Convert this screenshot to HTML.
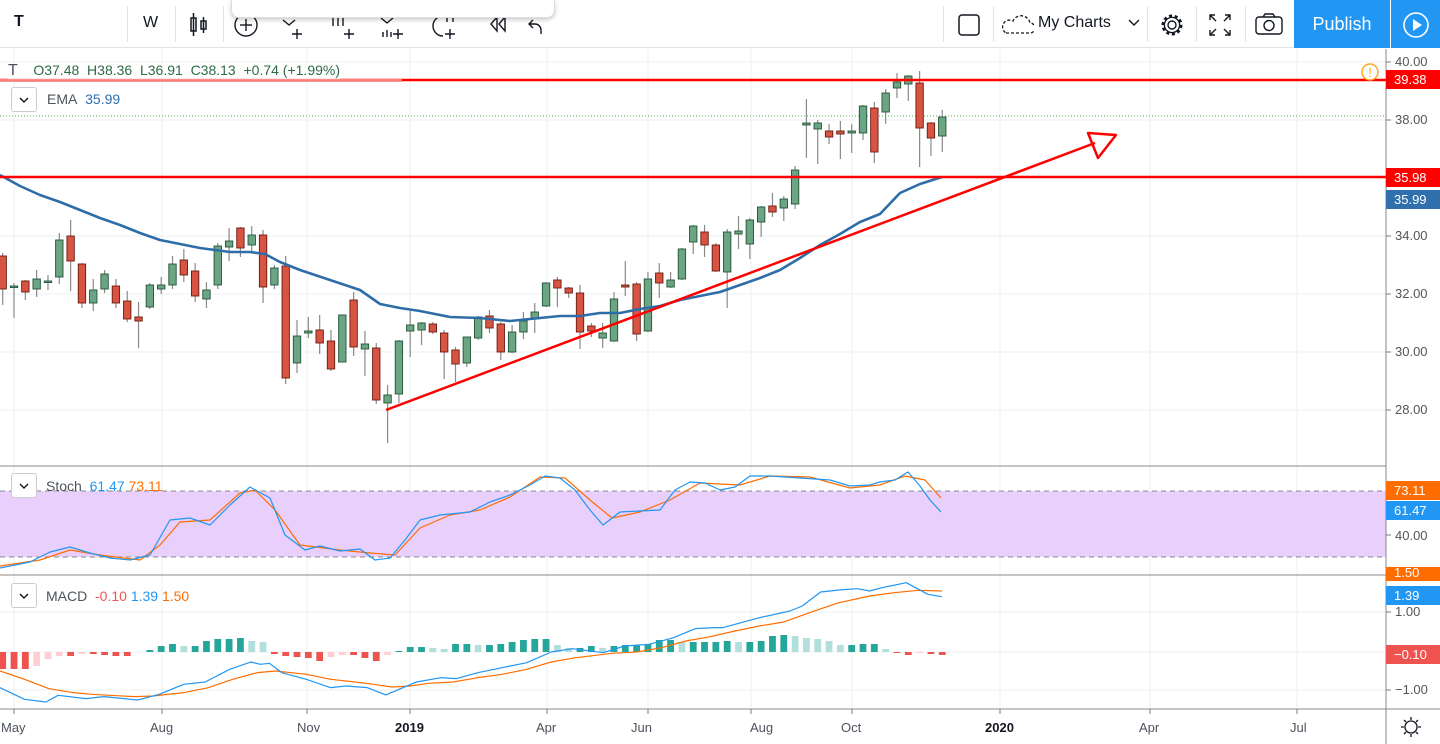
<!DOCTYPE html>
<html><head><meta charset="utf-8">
<style>
*{margin:0;padding:0;box-sizing:border-box}
body{width:1440px;height:744px;overflow:hidden;background:#fff;font-family:"Liberation Sans",Arial,sans-serif;position:relative}
.tb{position:absolute;left:0;top:0;width:1440px;height:48px;border-bottom:1px solid #e0e3eb;background:#fff}
.sep{position:absolute;top:6px;width:1px;height:36px;background:#e0e3eb}
.t{position:absolute;font-size:17px;color:#131722}
.ax{position:absolute;right:0;width:54px;font-size:13px;color:#555;text-align:left;padding-left:9px}
.lab{position:absolute;left:1386px;width:54px;height:19px;color:#fff;font-size:13px;line-height:19px;padding-left:8px}
.tl{position:absolute;top:720px;font-size:13px;color:#4c525e}
</style></head><body>
<div class="tb">
<div class="t" style="left:14px;top:13px;font-weight:bold;font-size:16px">T</div>
<div class="sep" style="left:127px"></div>
<div class="t" style="left:143px;top:14px;font-size:16px">W</div>
<div class="sep" style="left:175px"></div>
<svg style="position:absolute;left:188px;top:12px" width="24" height="26"><rect x="3" y="6" width="5" height="13" fill="none" stroke="#131722" stroke-width="1.5"/><line x1="5.5" y1="1" x2="5.5" y2="24" stroke="#131722" stroke-width="1.5"/><rect x="13" y="9" width="5" height="8" fill="none" stroke="#131722" stroke-width="1.5"/><line x1="15.5" y1="5" x2="15.5" y2="21" stroke="#131722" stroke-width="1.5"/></svg>
<div class="sep" style="left:223px"></div>
<svg style="position:absolute;left:233px;top:12px" width="330" height="30" fill="none" stroke="#131722" stroke-width="1.4"><circle cx="13" cy="13" r="11"/><line x1="13" y1="7" x2="13" y2="19"/><line x1="7" y1="13" x2="19" y2="13"/><path d="M50 8l6 5 6-5M64 17v10M59 22h10"/><path d="M100 6v8M105 6v8M110 6v8M116 17v10M111 22h10"/><path d="M148 6l6 5 6-5M150 20v5M154 18v7M158 20v5M165 17v10M160 22h10"/><path d="M210 4a10 10 0 1 0 0 20M214 5v5M220 4v6M217 17v10M212 22h10"/><path d="M258 12l6-7v14zM266 12l6-7v14z"/><path d="M300 8l-4 4 4 4M296 12h6a6 6 0 0 1 6 6v4"/><path d="M345 8l4 4-4 4M349 12h-6a6 6 0 0 0-6 6v4" stroke="#bbb"/></svg>
<div class="sep" style="left:943px"></div>
<svg style="position:absolute;left:957px;top:13px" width="24" height="24"><rect x="2" y="2" width="20" height="20" rx="3" fill="none" stroke="#131722" stroke-width="1.5"/></svg>
<div class="sep" style="left:993px"></div>
<svg style="position:absolute;left:1002px;top:14px" width="32" height="22"><path d="M4 19h24a5 5 0 0 0 0-10a9 9 0 0 0-17-2a6 6 0 0 0-7 12z" fill="none" stroke="#131722" stroke-width="1.3" stroke-dasharray="3 2"/></svg>
<div class="t" style="left:1038px;top:14px;font-size:16px">My Charts</div>
<svg style="position:absolute;left:1128px;top:19px" width="12" height="8"><path d="M1 1l5 5 5-5" fill="none" stroke="#131722" stroke-width="1.4"/></svg>
<div class="sep" style="left:1147px"></div>
<svg style="position:absolute;left:1158px;top:11px" width="28" height="28"><circle cx="14" cy="14" r="4" fill="none" stroke="#131722" stroke-width="1.4"/><circle cx="14" cy="14" r="9" fill="none" stroke="#131722" stroke-width="3" stroke-dasharray="3 2.6"/><circle cx="14" cy="14" r="7.6" fill="none" stroke="#131722" stroke-width="1.3"/></svg>
<div class="sep" style="left:1196px"></div>
<svg style="position:absolute;left:1208px;top:13px" width="24" height="24" fill="none" stroke="#131722" stroke-width="1.4"><path d="M2 7V2h5M2 2l6 6M22 7V2h-5M22 2l-6 6M2 17v5h5M2 22l6-6M22 17v5h-5M22 22l-6-6"/></svg>
<div class="sep" style="left:1245px"></div>
<svg style="position:absolute;left:1255px;top:13px" width="28" height="22"><rect x="1" y="4" width="26" height="17" rx="3" fill="none" stroke="#131722" stroke-width="1.4"/><path d="M8 4l2-3h8l2 3" fill="none" stroke="#131722" stroke-width="1.4"/><circle cx="14" cy="12.5" r="5" fill="none" stroke="#131722" stroke-width="1.4"/></svg>
<div style="position:absolute;left:1294px;top:0;width:96px;height:48px;background:#2196f3;color:#fff;font-size:18px;line-height:48px;text-align:center">Publish</div>
<div style="position:absolute;left:1391px;top:0;width:49px;height:48px;background:#2196f3"><svg width="49" height="48"><circle cx="25" cy="25" r="12" fill="none" stroke="#fff" stroke-width="1.6"/><path d="M22 19v12l9-6z" fill="#fff"/></svg></div>
</div>
<div style="position:absolute;left:231px;top:0;width:324px;height:18px;background:#fff;border:1px solid #ddd;border-top:none;border-radius:0 0 8px 8px;box-shadow:0 2px 5px rgba(0,0,0,.2)"></div>

<svg id="c" style="position:absolute;left:0;top:49px" width="1440" height="695" viewBox="0 49 1440 695"></svg>

<div style="position:absolute;left:8px;top:62px;font-size:14px;color:#4c525e;background:rgba(255,255,255,.6)"><span style="font-size:16px">T</span>&nbsp;&nbsp;&nbsp;&nbsp;<span style="color:#2e6b45">O37.48&nbsp; H38.36&nbsp; L36.91&nbsp; C38.13&nbsp; +0.74 (+1.99%)</span></div>
<div style="position:absolute;left:0;top:79px;width:402px;height:3px;background:rgba(255,140,140,.9)"></div>
<div style="position:absolute;left:11px;top:87px;width:26px;height:25px;border:1px solid #ccc;border-radius:3px;background:#fff"><svg width="24" height="23"><path d="M8 10l4 4 4-4" fill="none" stroke="#131722" stroke-width="1.4"/></svg></div>
<div style="position:absolute;left:47px;top:91px;font-size:14px;color:#4c525e">EMA&nbsp; <span style="color:#2e6db4">35.99</span></div>
<div style="position:absolute;left:11px;top:473px;width:26px;height:25px;border:1px solid #ccc;border-radius:3px;background:#fff"><svg width="24" height="23"><path d="M8 10l4 4 4-4" fill="none" stroke="#131722" stroke-width="1.4"/></svg></div>
<div style="position:absolute;left:46px;top:478px;font-size:14px;color:#4c525e">Stoch&nbsp; <span style="color:#2196f3">61.47</span> <span style="color:#ff6d00">73.11</span></div>
<div style="position:absolute;left:11px;top:583px;width:26px;height:25px;border:1px solid #ccc;border-radius:3px;background:#fff"><svg width="24" height="23"><path d="M8 10l4 4 4-4" fill="none" stroke="#131722" stroke-width="1.4"/></svg></div>
<div style="position:absolute;left:46px;top:588px;font-size:14px;color:#4c525e">MACD&nbsp; <span style="color:#ef5350">-0.10</span> <span style="color:#2196f3">1.39</span> <span style="color:#ff6d00">1.50</span></div>

<div class="ax" style="top:54px">40.00</div>
<div class="ax" style="top:112px">38.00</div>
<div class="ax" style="top:228px">34.00</div>
<div class="ax" style="top:286px">32.00</div>
<div class="ax" style="top:344px">30.00</div>
<div class="ax" style="top:402px">28.00</div>
<div class="ax" style="top:528px">40.00</div>
<div class="ax" style="top:604px">1.00</div>
<div class="ax" style="top:682px">−1.00</div>
<div class="lab" style="top:70px;background:#ff0000">39.38</div>
<div class="lab" style="top:168px;background:#ff0000">35.98</div>
<div class="lab" style="top:190px;background:#2f6fab">35.99</div>
<div class="lab" style="top:481px;background:#ff6d00">73.11</div>
<div class="lab" style="top:501px;background:#2196f3">61.47</div>
<div class="lab" style="top:567px;height:14px;line-height:12px;background:#ff6d00;overflow:hidden">1.50</div>
<div class="lab" style="top:586px;background:#2196f3">1.39</div>
<div class="lab" style="top:645px;background:#ef5350">−0.10</div>
<svg style="position:absolute;left:1360px;top:62px" width="20" height="20"><circle cx="10" cy="10" r="8" fill="#fff" stroke="#ffa726" stroke-width="1.5"/><text x="10" y="15" font-size="13" text-anchor="middle" fill="#ffa726" font-family="Liberation Sans">!</text></svg>
<svg style="position:absolute;left:1400px;top:716px" width="22" height="22"><circle cx="11" cy="11" r="6" fill="none" stroke="#131722" stroke-width="1.3"/><path d="M11 1v3M11 18v3M1 11h3M18 11h3M4 4l2 2M16 16l2 2M4 18l2-2M16 6l2-2" stroke="#131722" stroke-width="1.3"/></svg>

<div class="tl" style="left:1px">May</div>
<div class="tl" style="left:150px">Aug</div>
<div class="tl" style="left:297px">Nov</div>
<div class="tl" style="left:395px;font-weight:bold;color:#131722">2019</div>
<div class="tl" style="left:536px">Apr</div>
<div class="tl" style="left:631px">Jun</div>
<div class="tl" style="left:750px">Aug</div>
<div class="tl" style="left:841px">Oct</div>
<div class="tl" style="left:985px;font-weight:bold;color:#131722">2020</div>
<div class="tl" style="left:1139px">Apr</div>
<div class="tl" style="left:1290px">Jul</div>

<script>
var s='';
function L(x1,y1,x2,y2,c,w,extra){s+='<line x1="'+x1+'" y1="'+y1+'" x2="'+x2+'" y2="'+y2+'" stroke="'+c+'" stroke-width="'+(w||1)+'" '+(extra||'')+'/>';}
var vg=[14,162,307,410,547,648,751,852,1000,1150,1297];
vg.forEach(function(x){L(x,49,x,709,'#eeeff2',1);L(x,709,x,714,'#787b86',1);});
[62,120,178,236,294,352,410].forEach(function(y){L(0,y,1386,y,'#eeeff2',1);});
[535].forEach(function(y){L(0,y,1386,y,'#eeeff2',1);});
[612,652,690].forEach(function(y){L(0,y,1386,y,'#eeeff2',1);});
// stoch band
s+='<rect x="0" y="491" width="1386" height="66" fill="#e9cffb"/>';
L(0,491,1386,491,'#888',1,'stroke-dasharray="5 4"');L(0,557,1386,557,'#888',1,'stroke-dasharray="5 4"');
// pane separators
L(0,466,1386,466,'#888',1);L(0,575,1386,575,'#888',1);L(0,709,1440,709,'#888',1);
L(1386,49,1386,744,'#888',1);
// axis ticks
[62,120,236,294,352,410,535,612,690].forEach(function(y){L(1386,y,1391,y,'#787b86',1);});
// green dotted
L(0,116,1386,116,'#4caf50',1,'stroke-dasharray="1 2"');
// candles [bodyTop/bodyBot as open/close y, wick hi, wick lo, green?]
var C=[[256,289,253,305,0],[286,286,283,318,1],[281,292,280,300,0],[279,289,270,297,1],[281,281,275,290,1],[240,277,233,284,1],[236,261,220,291,0],[264,303,263,308,0],[290,303,279,311,1],[274,289,270,293,1],[286,303,279,308,0],[301,319,291,322,0],[317,321,302,348,0],[285,307,283,309,1],[285,289,277,294,1],[264,285,256,289,1],[260,275,249,282,0],[271,296,263,302,0],[290,299,282,308,1],[246,285,243,289,1],[241,247,228,261,1],[228,248,227,257,0],[235,245,226,253,1],[235,287,230,303,0],[268,285,265,289,1],[266,378,256,384,0],[336,363,320,373,1],[331,333,317,338,1],[330,343,315,354,0],[341,369,330,371,0],[315,362,315,362,1],[300,347,292,356,0],[344,349,331,376,1],[348,400,343,404,0],[395,403,385,443,1],[341,394,340,403,1],[325,331,311,357,1],[323,330,322,345,1],[324,332,322,334,0],[333,352,330,379,0],[350,364,347,382,0],[337,363,337,367,1],[317,338,316,340,1],[316,328,310,333,0],[324,352,322,360,0],[332,352,325,353,1],[321,332,312,339,1],[312,319,303,333,1],[283,306,282,307,1],[280,288,277,307,0],[288,293,287,298,0],[293,332,285,349,0],[326,331,323,337,0],[333,338,323,348,1],[299,341,292,342,1],[285,287,261,296,0],[284,334,282,341,0],[279,331,272,332,1],[273,283,263,298,0],[280,287,272,288,1],[249,279,248,280,1],[226,242,225,254,1],[232,245,225,257,0],[245,271,243,272,0],[232,272,229,308,1],[231,234,216,249,1],[220,244,218,259,1],[207,222,206,237,1],[206,212,193,217,0],[199,208,196,221,1],[170,204,166,209,1],[123,125,99,158,1],[123,129,120,164,1],[131,137,124,144,0],[131,134,121,159,0],[131,133,124,153,1],[106,133,105,140,1],[108,152,102,163,0],[93,112,89,124,1],[82,88,73,98,1],[76,84,75,101,1],[83,128,71,167,0],[123,138,122,156,0],[117,136,110,152,1]];
C.forEach(function(c,i){var x=2.7+i*11.32;L(x,c[2],x,c[3],'#8a8a8a',1.2);var h=Math.max(c[1]-c[0],1.5);
s+='<rect x="'+(x-3.7)+'" y="'+c[0]+'" width="7.4" height="'+h+'" fill="'+(c[4]?'#6ba583':'#d75442')+'" stroke="'+(c[4]?'#225437':'#6b1a10')+'" stroke-width="0.9"/>';});
function P(pts,c,w,tr){s+='<polyline points="'+pts+'" fill="none" stroke="'+c+'" stroke-width="'+w+'" stroke-linejoin="round" '+(tr||'')+'/>';}
P('0,175 20,186 40,195 60,202 80,210 100,218 120,225 140,233 160,240 180,244 200,248 230,252 250,252 265,254 280,262 300,270 330,280 360,290 380,304 400,308 420,311 450,317 480,318 510,321 540,318 560,316 580,316 600,313 620,313 640,309 660,306 680,300 700,296 720,292 740,285 760,278 780,270 800,258 820,245 840,234 860,222 880,214 900,193 920,184 942,177','#2e6da8',2.6);
// red lines
L(0,80,1386,80,'#ff0000',2.5);L(0,177,1386,177,'#ff0000',2.5);
L(386,410,1095,143,'#ff0000',2.5);
s+='<polygon points="1116,135 1088,133 1098,158" fill="none" stroke="#ff0000" stroke-width="2.5" stroke-linejoin="round"/>';
// stoch
P('0,566 40,560 70,550 100,555 140,560 160,545 180,522 210,520 240,493 255,490 275,510 300,545 340,550 370,553 395,555 420,528 450,515 480,510 510,497 540,477 565,478 590,500 612,518 640,512 670,500 700,483 740,485 770,476 810,477 850,488 880,485 905,476 925,480 941,498','#ff6d00',1.2);
P('0,568 30,562 50,552 70,547 90,553 110,558 130,560 150,555 170,520 190,518 210,525 230,505 250,487 270,498 285,535 305,550 320,546 340,551 360,549 375,560 390,558 405,540 420,520 440,515 470,512 490,502 510,495 530,485 545,476 560,478 575,490 590,510 603,525 620,512 640,511 660,510 675,490 690,482 705,483 720,490 735,487 750,476 770,476 800,478 830,480 850,486 870,485 880,482 895,480 908,472 920,486 930,500 941,512','#2196f3',1.2);
// macd histogram
var H=[-17,-17,-17,-14,-7,-4,-4,-2,-2,-3,-4,-4,0,2,6,8,6,6,11,13,13,14,11,10,-2,-4,-5,-6,-9,-5,-3,-3,-6,-9,-3,1,5,5,4,3,8,8,7,7,8,10,12,13,13,7,4,4,6,4,6,7,7,8,12,12,10,10,10,10,11,10,10,11,16,17,16,14,13,11,7,7,8,8,3,-1,-3,-1,-2,-3];
H.forEach(function(h,i){if(!h)return;var x=2.7+i*11.32;var prev=i?H[i-1]:h;var col=h>0?(h>=prev?'#26a69a':'#b2dfdb'):(h<=prev?'#ef5350':'#ffcdd2');
s+='<rect x="'+(x-3.4)+'" y="'+(h>0?652-h:652)+'" width="6.8" height="'+Math.abs(h)+'" fill="'+col+'"/>';});
var tr='transform="translate(0,576) scale(0.6124,0.3333)" vector-effect="non-scaling-stroke"';
P('0,285 40,310 80,338 120,350 150,355 220,362 250,360 300,350 340,335 380,310 420,290 450,285 500,295 540,310 580,318 610,325 640,333 670,330 700,322 740,318 780,305 820,295 860,280 900,258 940,245 1000,232 1040,228 1080,215 1120,195 1160,182 1200,165 1240,150 1280,138 1330,105 1370,80 1420,60 1460,50 1500,43 1538,45','#ff6d00',1.2,tr);
P('0,335 40,370 75,378 95,358 140,368 170,362 225,372 260,355 300,325 335,318 375,280 410,258 425,265 440,262 460,290 500,310 540,335 565,330 600,335 630,357 680,318 720,305 745,308 780,290 820,275 860,260 900,228 935,218 985,230 1020,210 1060,205 1100,185 1135,158 1165,155 1180,155 1240,125 1290,105 1310,90 1340,48 1370,42 1400,38 1420,45 1440,35 1480,20 1500,40 1515,55 1538,62','#2196f3',1.2,tr);
document.getElementById('c').innerHTML=s;
</script>
</body></html>
